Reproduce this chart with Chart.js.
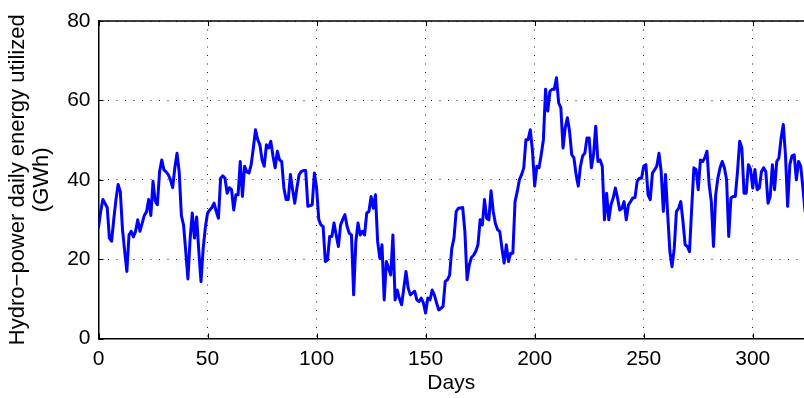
<!DOCTYPE html>
<html>
<head>
<meta charset="utf-8">
<script src="https://cdn.jsdelivr.net/npm/chart.js@4/dist/chart.umd.min.js"></script>
<style>
  html, body { margin: 0; padding: 0; background: #fff; }
  #wrap { width: 804px; height: 398px; }
</style>
</head>
<body>
<div id="wrap"><canvas id="c" width="804" height="398"></canvas></div>
<script>
// Daily hydro-power energy utilized (GWh), one value per day starting at day 0
const energy = [
  28, 32, 35, 34, 33, 25.3, 24.5, 30, 35, 38.8,
  37, 27.5, 22, 16.9, 26.1, 27, 25.6, 27, 29.9, 27,
  29, 31, 31.9, 35, 31, 39.6, 34.6, 33.7, 42, 45,
  42.5, 42, 41.3, 40, 38, 43, 46.7, 42, 31, 28.6,
  22, 15, 25, 31.6, 25.3, 30.6, 22, 14.3, 22.7, 28,
  31.6, 32.4, 33, 34.1, 32, 30.3, 40.4, 41, 40.4, 36.6,
  38, 37.5, 32.4, 36.2, 36.2, 44.6, 35.8, 43.4, 42, 41.7,
  43.8, 48, 52.6, 50.1, 48.8, 45, 43.4, 48.8, 48, 49.7,
  46, 43, 47.2, 45, 44.6, 38, 35, 35, 41.3, 37.5,
  34.1, 38, 41.3, 42.1, 42.3, 42.3, 33.3, 33.5, 33.7, 41.7,
  37.9, 30, 28.6, 28.2, 19.4, 19.8, 25.7, 25.7, 29.1, 26,
  23.2, 28.6, 30, 31.2, 28.2, 26.5, 26.1, 11, 24.4, 29.1,
  26.1, 27, 26.1, 31.6, 32, 35.8, 32.8, 36.2, 24.4, 20.2,
  23.6, 9.7, 19.4, 17.7, 16, 26.1, 9.7, 12.2, 10, 8.5,
  12.7, 16.9, 12.7, 11, 11.5, 11.9, 9.7, 9.3, 10.2, 8.9,
  6.4, 10.2, 9.7, 12.2, 11, 9, 7.2, 7.6, 8.1, 14.4,
  14.8, 16, 22.7, 25.3, 32, 32.8, 32.9, 33, 27, 14.8,
  18.5, 20.4, 21, 22, 23.6, 29.9, 28.6, 35, 30.3, 29.9,
  37.2, 32, 29, 27.4, 27, 22.7, 19, 23.6, 19.4, 21.5,
  21.5, 34.5, 37, 40, 41.3, 43, 50.1, 50.1, 52.6, 47.2,
  38.4, 43.4, 43, 46.3, 50.1, 62.8, 57.3, 62.3, 62.8, 62.8,
  65.7, 59.4, 58.2, 48, 53.1, 55.6, 52.2, 46.3, 45.5, 41.3,
  38.4, 43.4, 46, 46.7, 50.5, 50.5, 43, 46.3, 53.5, 44.6,
  45, 43.4, 29.9, 36.6, 29.9, 33.7, 35.4, 37.9, 35.4, 32.4,
  32.8, 34.5, 29.9, 33.7, 34.5, 35.4, 35.5, 39.6, 40.4, 40.4,
  43.4, 43.8, 36.2, 35, 41.7, 42.5, 43.4, 46.7, 42.1, 32,
  41.3, 31.2, 21.9, 18.1, 22.7, 32, 32.8, 34.5, 29.5, 23.6,
  23.2, 21.9, 32.8, 43, 42.6, 37.5, 45, 44.6, 45.5, 47.2,
  38.8, 34.5, 23.2, 36.2, 40.4, 43, 44.6, 43, 40, 25.7,
  35.4, 35.8, 35.8, 42, 49.7, 48, 36.6, 36.6, 43.8, 42.6,
  37.9, 42.6, 37.5, 37.9, 42.1, 43, 42, 34.1, 35.8, 43.8,
  37.5, 44.6, 45.5, 50.5, 53.9, 46.3, 33.3, 43.8, 46, 46.3,
  40, 44.6, 43.4, 37.9, 32
];
const days = energy.map((_, i) => i);

const xTicks = [0, 50, 100, 150, 200, 250, 300];
const yTicks = [0, 20, 40, 60, 80];
const xMax = 323.5;

const FONT = 'Liberation Sans, Arial, Helvetica, sans-serif';

// Box top edge plus inward-pointing tick marks, drawn from the scales
const frame = {
  id: 'frame',
  afterDraw(chart) {
    const { ctx, chartArea: a, scales: { x, y } } = chart;
    ctx.save();
    ctx.strokeStyle = '#000';
    ctx.lineWidth = 1.5;
    ctx.beginPath();
    ctx.moveTo(a.left, a.top);
    ctx.lineTo(a.right, a.top);
    ctx.stroke();
    ctx.lineWidth = 1;
    const len = 5;
    ctx.beginPath();
    xTicks.forEach(v => {
      const px = Math.round(x.getPixelForValue(v)) + 0.5;
      ctx.moveTo(px, a.bottom); ctx.lineTo(px, a.bottom - len);
      ctx.moveTo(px, a.top); ctx.lineTo(px, a.top + len);
    });
    yTicks.forEach(v => {
      const py = Math.round(y.getPixelForValue(v)) + 0.5;
      ctx.moveTo(a.left, py); ctx.lineTo(a.left + len, py);
    });
    ctx.stroke();
    ctx.restore();
  }
};

new Chart(document.getElementById('c'), {
  type: 'line',
  data: {
    datasets: [{
      data: days.map((d, i) => ({ x: d, y: energy[i] })),
      borderColor: '#0000ff',
      borderWidth: 3,
      borderJoinStyle: 'round',
      borderCapStyle: 'round',
      pointRadius: 0,
      tension: 0,
      fill: false
    }]
  },
  options: {
    responsive: false,
    animation: false,
    devicePixelRatio: 1,
    layout: { padding: { top: 21, right: 0, bottom: 0, left: 0 } },
    plugins: { legend: { display: false }, tooltip: { enabled: false } },
    scales: {
      x: {
        type: 'linear',
        min: 0,
        max: xMax,
        afterBuildTicks: s => { s.ticks = xTicks.map(v => ({ value: v })); },
        afterFit: s => { s.height = 59.5; },
        ticks: {
          color: '#000',
          font: { family: FONT, size: 21 },
          padding: 8,
          maxRotation: 0,
          autoSkip: false
        },
        grid: {
          color: '#222',
          lineWidth: 1,
          drawTicks: false
        },
        border: { display: true, color: '#000', width: 1.5, dash: [1, 7.5] },
        title: {
          display: true,
          text: 'Days',
          color: '#000',
          font: { family: FONT, size: 21, lineHeight: '24px' },
          padding: { top: 0, bottom: 3 }
        }
      },
      y: {
        min: 0,
        max: 80,
        afterBuildTicks: s => { s.ticks = yTicks.map(v => ({ value: v })); },
        afterFit: s => { s.width = 98.5; },
        ticks: {
          color: '#000',
          font: { family: FONT, size: 21 },
          padding: 8
        },
        grid: {
          color: '#222',
          lineWidth: 1,
          drawTicks: false
        },
        border: { display: true, color: '#000', width: 1.5, dash: [1, 7.5] },
        title: {
          display: true,
          text: ['Hydro\u2212power daily energy utilized', '(GWh)'],
          color: '#000',
          font: { family: FONT, size: 22, lineHeight: '24px' },
          padding: { top: 6, bottom: 0 }
        }
      }
    }
  },
  plugins: [frame]
});
</script>
</body>
</html>
